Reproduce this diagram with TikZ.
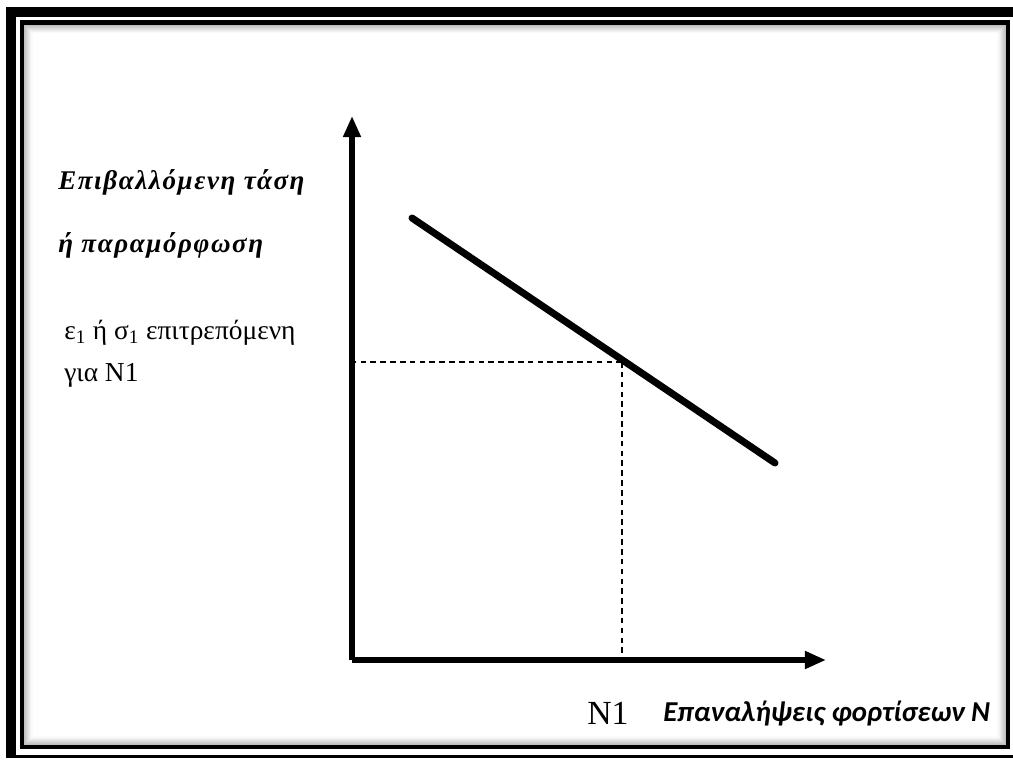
\documentclass[tikz,border=0pt]{standalone}
\usepackage{fontspec}
\setmainfont{Liberation Serif}
\newfontfamily\headfont{Liberation Serif}[LetterSpace=6]
\newfontfamily\calfont{Carlito}
\usetikzlibrary{arrows.meta, positioning}
\tikzset{
  axis/.style={line width=3.6pt, -{Triangle[length=15pt, width=12pt]}},
  curve/.style={line width=5pt, line cap=round},
  guide/.style={line width=1.4pt, dash pattern=on 4pt off 3pt},
  ylab/.style={anchor=west, inner sep=0pt,
               font=\headfont\fontsize{19.2}{22}\selectfont\bfseries\itshape},
  plain/.style={inner sep=0pt, font=\fontsize{19.5}{30}\selectfont},
  xlab/.style={anchor=west, inner sep=0pt,
               font=\calfont\fontsize{20.5}{24}\selectfont\bfseries\itshape},
}
\begin{document}
\begin{tikzpicture}[x=0.25mm, y=-0.25mm]
  \useasboundingbox (0,0) rectangle (1013,760);

  % ---- frame ----
  \fill[black] (6,7) rectangle (1016,758);
  \fill[white] (16,17) rectangle (1016,755);
  \foreach \i in {1,...,10} {
    \pgfmathsetmacro\shade{int(36-3.4*\i)}
    \draw[black!\shade, line width=0.75pt] (22+\i,22.5+\i) rectangle (1008-\i,747-\i);
  }
  \draw[line width=2.85pt] (22,22.5) rectangle (1008,747);

  % ---- axes ----
  \coordinate (O) at (352,660);
  \coordinate (ytip) at (352,116);
  \coordinate (xtip) at (826,660);
  \draw[axis] (O) -- (ytip);
  \draw[axis] (O) -- (xtip);

  % ---- fatigue line ----
  \coordinate (A) at (412,218);
  \coordinate (B) at (775,463);
  \coordinate (P) at (622,362);
  \draw[curve] (A) -- (B);
  \draw[guide] (P) -- (P -| O);
  \draw[guide] (P) -- (P |- O);

  % ---- labels ----
  \node[ylab] (stress) at (58,182) {Επιβαλλόμενη τάση};
  \node[ylab] (strain) at (58,245) {ή παραμόρφωση};
  \node[plain, align=left, anchor=north west] (allow) at (64,320)
    {ε\textsubscript{1} ή σ\textsubscript{1} επιτρεπόμενη\\για N1};
  \node[plain, font=\fontsize{24}{26}\selectfont] (n1) at (608,713) {N1};
  \node[xlab] (cycles) at (663,713) {Επαναλήψεις φορτίσεων N};
\end{tikzpicture}
\end{document}
